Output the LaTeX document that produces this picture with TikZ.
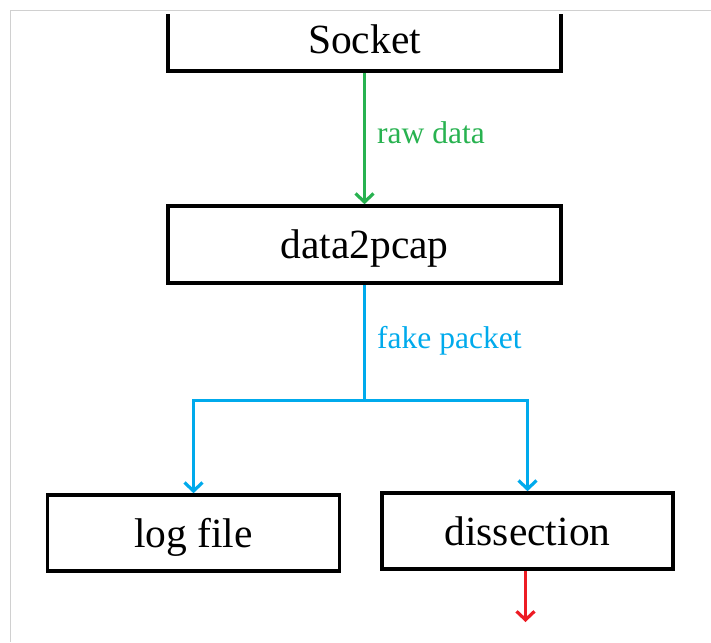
\documentclass[tikz,border=0pt]{standalone}
\usepackage{fontspec}
\setmainfont{Liberation Serif}
\usetikzlibrary{arrows.meta}
\definecolor{rawgreen}{RGB}{40,178,80}
\definecolor{pktblue}{RGB}{0,170,236}
\definecolor{outred}{RGB}{237,28,36}
\definecolor{framegray}{RGB}{208,208,208}
\tikzset{
  boxnode/.style={draw=black, line width=3.6pt, inner sep=0pt, text height=28pt, text depth=0pt,
    font=\fontsize{41.5}{48}\selectfont},
  flowlabel/.style={inner sep=0pt, anchor=base west, font=\fontsize{31.5}{36}\selectfont},
  flowarrow/.style={line width=3.2pt, -{Straight Barb[length=8.5pt,width=18pt]}},
}
\begin{document}
\begin{tikzpicture}[x=1pt,y=-1pt]
\useasboundingbox (0,0) rectangle (711,642);
% frame
\draw[framegray, line width=1pt] (10,642) -- (10,11) -- (711,11);
% Socket box, top edge hidden under the frame
\begin{scope}
\clip (0,15) rectangle (711,642);
\node[boxnode, minimum width=393pt, minimum height=63pt] (socket) at (364.5,39.5) {Socket};
\end{scope}
\node[boxnode, minimum width=393pt, minimum height=77pt] (data) at (364.5,244.5) {data2pcap};
\node[boxnode, minimum width=292pt, minimum height=76pt] (log) at (193.5,533) {log file};
\node[boxnode, minimum width=291pt, minimum height=76pt] (diss) at (527.5,531) {dissection};
% connectors
\draw[flowarrow, rawgreen] (socket.south) -- (data.north);
\node[flowlabel, text=rawgreen] (rawlbl) at (377,143) {raw data};
\coordinate (split) at (364.5,400.5);
\draw[line width=3.2pt, pktblue] (data.south) -- (split);
\draw[flowarrow, pktblue] (split) -| (log.north);
\draw[flowarrow, pktblue] (split) -| (diss.north);
\node[flowlabel, text=pktblue] (pktlbl) at (377,348) {fake packet};
\coordinate (outend) at (525.5,622);
\draw[flowarrow, outred] (diss.south -| outend) -- (outend);
\end{tikzpicture}
\end{document}
